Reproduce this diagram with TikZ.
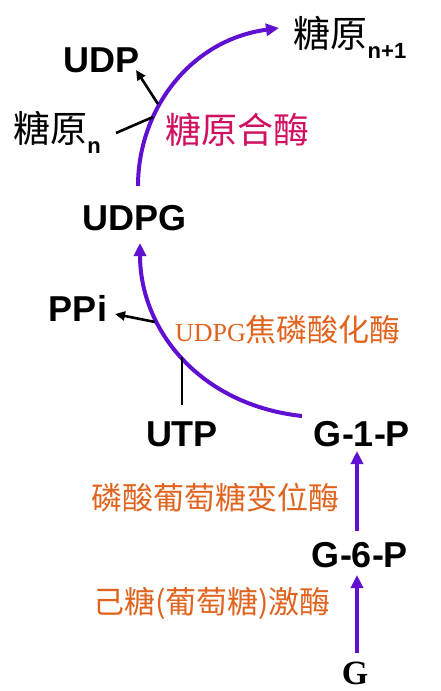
\documentclass[tikz,border=0pt]{standalone}
\usepackage{fontspec}
\setmainfont{Liberation Sans}
\newfontfamily\cjk{Noto Sans CJK SC}
\newfontfamily\serifl{Liberation Serif}
\usetikzlibrary{arrows.meta}
\definecolor{pathpurple}{HTML}{6010D0}
\definecolor{enzorange}{HTML}{E0641E}
\definecolor{enzmagenta}{HTML}{D01060}
\begin{document}
\begin{tikzpicture}[x=1pt,y=-1pt,
  lbl/.style={inner sep=0pt,font=\fontsize{36}{36}\selectfont\bfseries},
  cjklbl/.style={inner sep=0pt,font=\fontsize{37}{37}\selectfont\cjk},
  enzlbl/.style={inner sep=0pt,text=enzorange,font=\fontsize{31}{31}\selectfont\cjk},
  mainpath/.style={draw=pathpurple,line width=4pt,-{Triangle[length=13pt,width=12pt]}},
  sidearrow/.style={draw=black,line width=2.6pt,-{Triangle[length=10pt,width=9pt]}},
  sideline/.style={draw=black,line width=2.6pt}]
\useasboundingbox (0,0) rectangle (441,691);
\fill[white] (0,0) rectangle (441,691);
% nodes
\node[cjklbl] (gn1) at (350,37) {糖原\raisebox{-0.3em}{\fontsize{22}{22}\selectfont\rmfamily\bfseries n+1}};
\node[lbl] (udp) at (102,60) {UDP};
\node[cjklbl] (gn) at (57,132) {糖原\raisebox{-0.3em}{\fontsize{22}{22}\selectfont\rmfamily\bfseries n}};
\node[inner sep=0pt,text=enzmagenta,font=\fontsize{36}{36}\selectfont\cjk] (enz1) at (237,130) {糖原合酶};
\node[lbl] (udpg) at (135,218) {UDPG};
\node[lbl] (ppi) at (78,308) {PPi};
\node[enzlbl] (enz2) at (288,330) {{\serifl\fontsize{26}{26}\selectfont UDPG}焦磷酸化酶};
\node[lbl] (utp) at (182,434) {UTP};
\node[lbl] (g1p) at (362,434) {G-1-P};
\node[enzlbl] (enz3) at (215,498) {磷酸葡萄糖变位酶};
\node[lbl] (g6p) at (360,555) {G-6-P};
\node[enzlbl] (enz4) at (212,603) {己糖(葡萄糖)激酶};
\node[inner sep=0pt,font=\fontsize{34}{34}\selectfont\serifl\bfseries] (g) at (355,673) {G};
% coordinates
\coordinate (c1s) at (138,186);
\coordinate (c1e) at (279,28);
\coordinate (c2s) at (302,416);
\coordinate (c2e) at (140,243);
\coordinate (udpA) at (158,104);
\coordinate (udpB) at (136,70);
\coordinate (gnA) at (116,133);
\coordinate (gnB) at (153,117);
\coordinate (ppiA) at (155,322);
\coordinate (ppiB) at (115,314);
\coordinate (utpA) at (182,405);
\coordinate (utpB) at (182,357);
\coordinate (v1s) at (357,531);
\coordinate (v1e) at (357,451);
\coordinate (v2s) at (357,653);
\coordinate (v2e) at (357,575);
% connectors
\draw[mainpath] (c1s) .. controls (138,110) and (190,40) .. (c1e);
\draw[mainpath] (c2s) .. controls (200,405) and (140,330) .. (c2e);
\draw[sidearrow] (udpA) -- (udpB);
\draw[sideline] (gnA) -- (gnB);
\draw[sidearrow] (ppiA) -- (ppiB);
\draw[sideline] (utpA) -- (utpB);
\draw[mainpath] (v1s) -- (v1e);
\draw[mainpath] (v2s) -- (v2e);
\end{tikzpicture}
\end{document}
